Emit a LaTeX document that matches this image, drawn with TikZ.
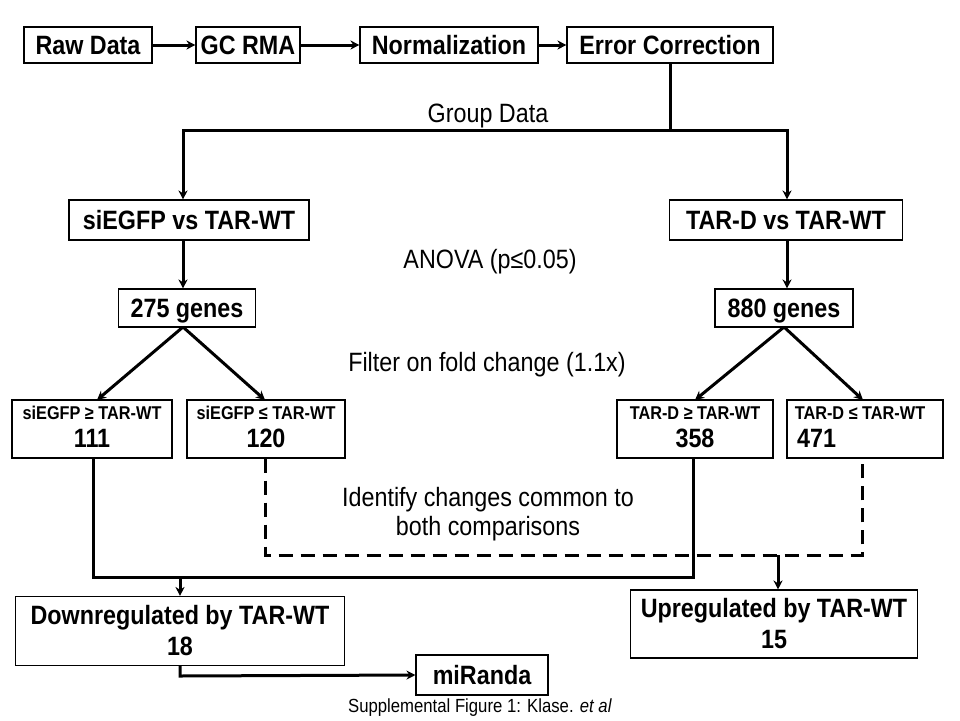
\documentclass[tikz,border=0pt]{standalone}
\usepackage{fontspec}
\setmainfont{Liberation Sans}[FakeStretch=0.88]
\usetikzlibrary{arrows.meta}
\begin{document}
\begin{tikzpicture}[x=1pt,y=-1pt,
  box/.style={draw, line width=1.1pt, inner sep=0pt, align=center, font=\fontsize{26.5}{31}\selectfont\bfseries},
  one/.style={text height=19pt, text depth=0pt},
  sbox/.style={draw, line width=1.1pt, inner sep=0pt, minimum width=158, minimum height=58},
  lbl/.style={font=\fontsize{26.5}{31}\selectfont, align=center, inner sep=0pt},
  small/.style={font=\fontsize{18.5}{22}\selectfont\bfseries, inner sep=0pt, text height=13.3pt, text depth=0pt},
  num/.style={font=\fontsize{26.5}{31}\selectfont\bfseries, inner sep=0pt, text height=19pt, text depth=0pt},
  conn/.style={line width=3pt},
  arr/.style={line width=3pt, -{Stealth[length=9pt,width=9pt]}},
  dsh/.style={line width=3pt, dash pattern=on 14pt off 8pt}
]
\useasboundingbox (0,0) rectangle (960,720);
\fill[white] (0,0) rectangle (960,720);
% top row
\node[box, one, minimum width=128, minimum height=36] (raw) at (88,45) {Raw Data};
\node[box, one, minimum width=104, minimum height=36] (gc) at (248,45) {GC RMA};
\node[box, one, minimum width=178, minimum height=36] (norm) at (449,45) {Normalization};
\node[box, one, minimum width=206, minimum height=36] (err) at (670,45) {Error Correction};
\draw[arr] (raw) -- (gc);
\draw[arr] (gc) -- (norm);
\draw[arr] (norm) -- (err);
% comparisons
\node[box, one, minimum width=240, minimum height=40] (sie) at (189,220) {siEGFP vs TAR-WT};
\node[box, one, minimum width=233, minimum height=40] (tard) at (786,220) {TAR-D vs TAR-WT};
\coordinate (j1) at (670,130);
\coordinate (jl) at (183,130);
\coordinate (jr) at (787,130);
\draw[conn] (err.south) -- (j1);
\draw[arr] (j1) -- (jl) -- (jl |- sie.north);
\draw[arr] (j1) -- (jr) -- (jr |- tard.north);
\node[lbl] (gd) at (488,116) {Group Data};
\node[lbl] (anova) at (490,262) {ANOVA (p≤0.05)};
% genes
\node[box, one, minimum width=137, minimum height=38] (g275) at (187,308) {275 genes};
\node[box, one, minimum width=138, minimum height=38] (g880) at (784,308) {880 genes};
\draw[arr] (jl |- sie.south) -- (jl |- g275.north);
\draw[arr] (jr |- tard.south) -- (jr |- g880.north);
\node[lbl] (filt) at (487,365) {Filter on fold change (1.1x)};
% small boxes
\node[sbox, minimum width=160] (s1) at (92,429) {};
\node[sbox] (s2) at (266,429) {};
\node[sbox, minimum width=156] (t1) at (695,429) {};
\node[sbox, minimum width=156] (t2) at (865,429) {};
\node[small] (s1a) at (92,413) {siEGFP ≥ TAR-WT};
\node[num] (s1b) at (92,438) {111};
\node[small] (s2a) at (266,413) {siEGFP ≤ TAR-WT};
\node[num] (s2b) at (266,438) {120};
\node[small] (t1a) at (695,413) {TAR-D ≥ TAR-WT};
\node[num] (t1b) at (695,438) {358};
\node[small] (t2a) at (860,413) {TAR-D ≤ TAR-WT};
\node[num, anchor=west] (t2b) at (797,438) {471};
\coordinate (g275b) at (183,327);
\coordinate (g880b) at (784,327);
\draw[arr] (g275b) -- (97,400);
\draw[arr] (g275b) -- (265,400);
\draw[arr] (g880b) -- (695,400);
\draw[arr] (g880b) -- (863,400);
% bottom
\node[box, minimum width=329, minimum height=69] (down) at (180,631) {Downregulated by TAR-WT\\18};
\node[box, minimum width=287, minimum height=68] (up) at (774,624) {Upregulated by TAR-WT\\15};
\node[box, one, minimum width=132, minimum height=40] (mir) at (482,675) {miRanda};
\node[lbl] (ident) at (488,514) {Identify changes common to\\[-2pt]both comparisons};
% solid merge
\coordinate (a1) at (93,577);
\coordinate (a2) at (693,577);
\coordinate (am) at (180,577);
\draw[conn] (s1.south -| a1) -- (a1) -- (a2) -- (a2 |- t1.south);
\draw[arr] (am) -- (am |- down.north);
% dashed merge
\coordinate (b1) at (265,555);
\coordinate (b2) at (862,555);
\coordinate (bm) at (778,555);
\draw[dsh] (s2.south -| b1) -- (b1) -- (b2) -- (b2 |- t2.south);
\draw[arr] (bm) -- (bm |- up.north);
% miRanda
\coordinate (c1) at (180,676);
\draw[arr] (down.south -| c1) -- (c1) -- (mir.west);
\node[font=\fontsize{19}{22}\selectfont, inner sep=0pt] (cap) at (480,708) {Supplemental Figure 1: Klase. \textit{et al}};
\end{tikzpicture}
\end{document}
